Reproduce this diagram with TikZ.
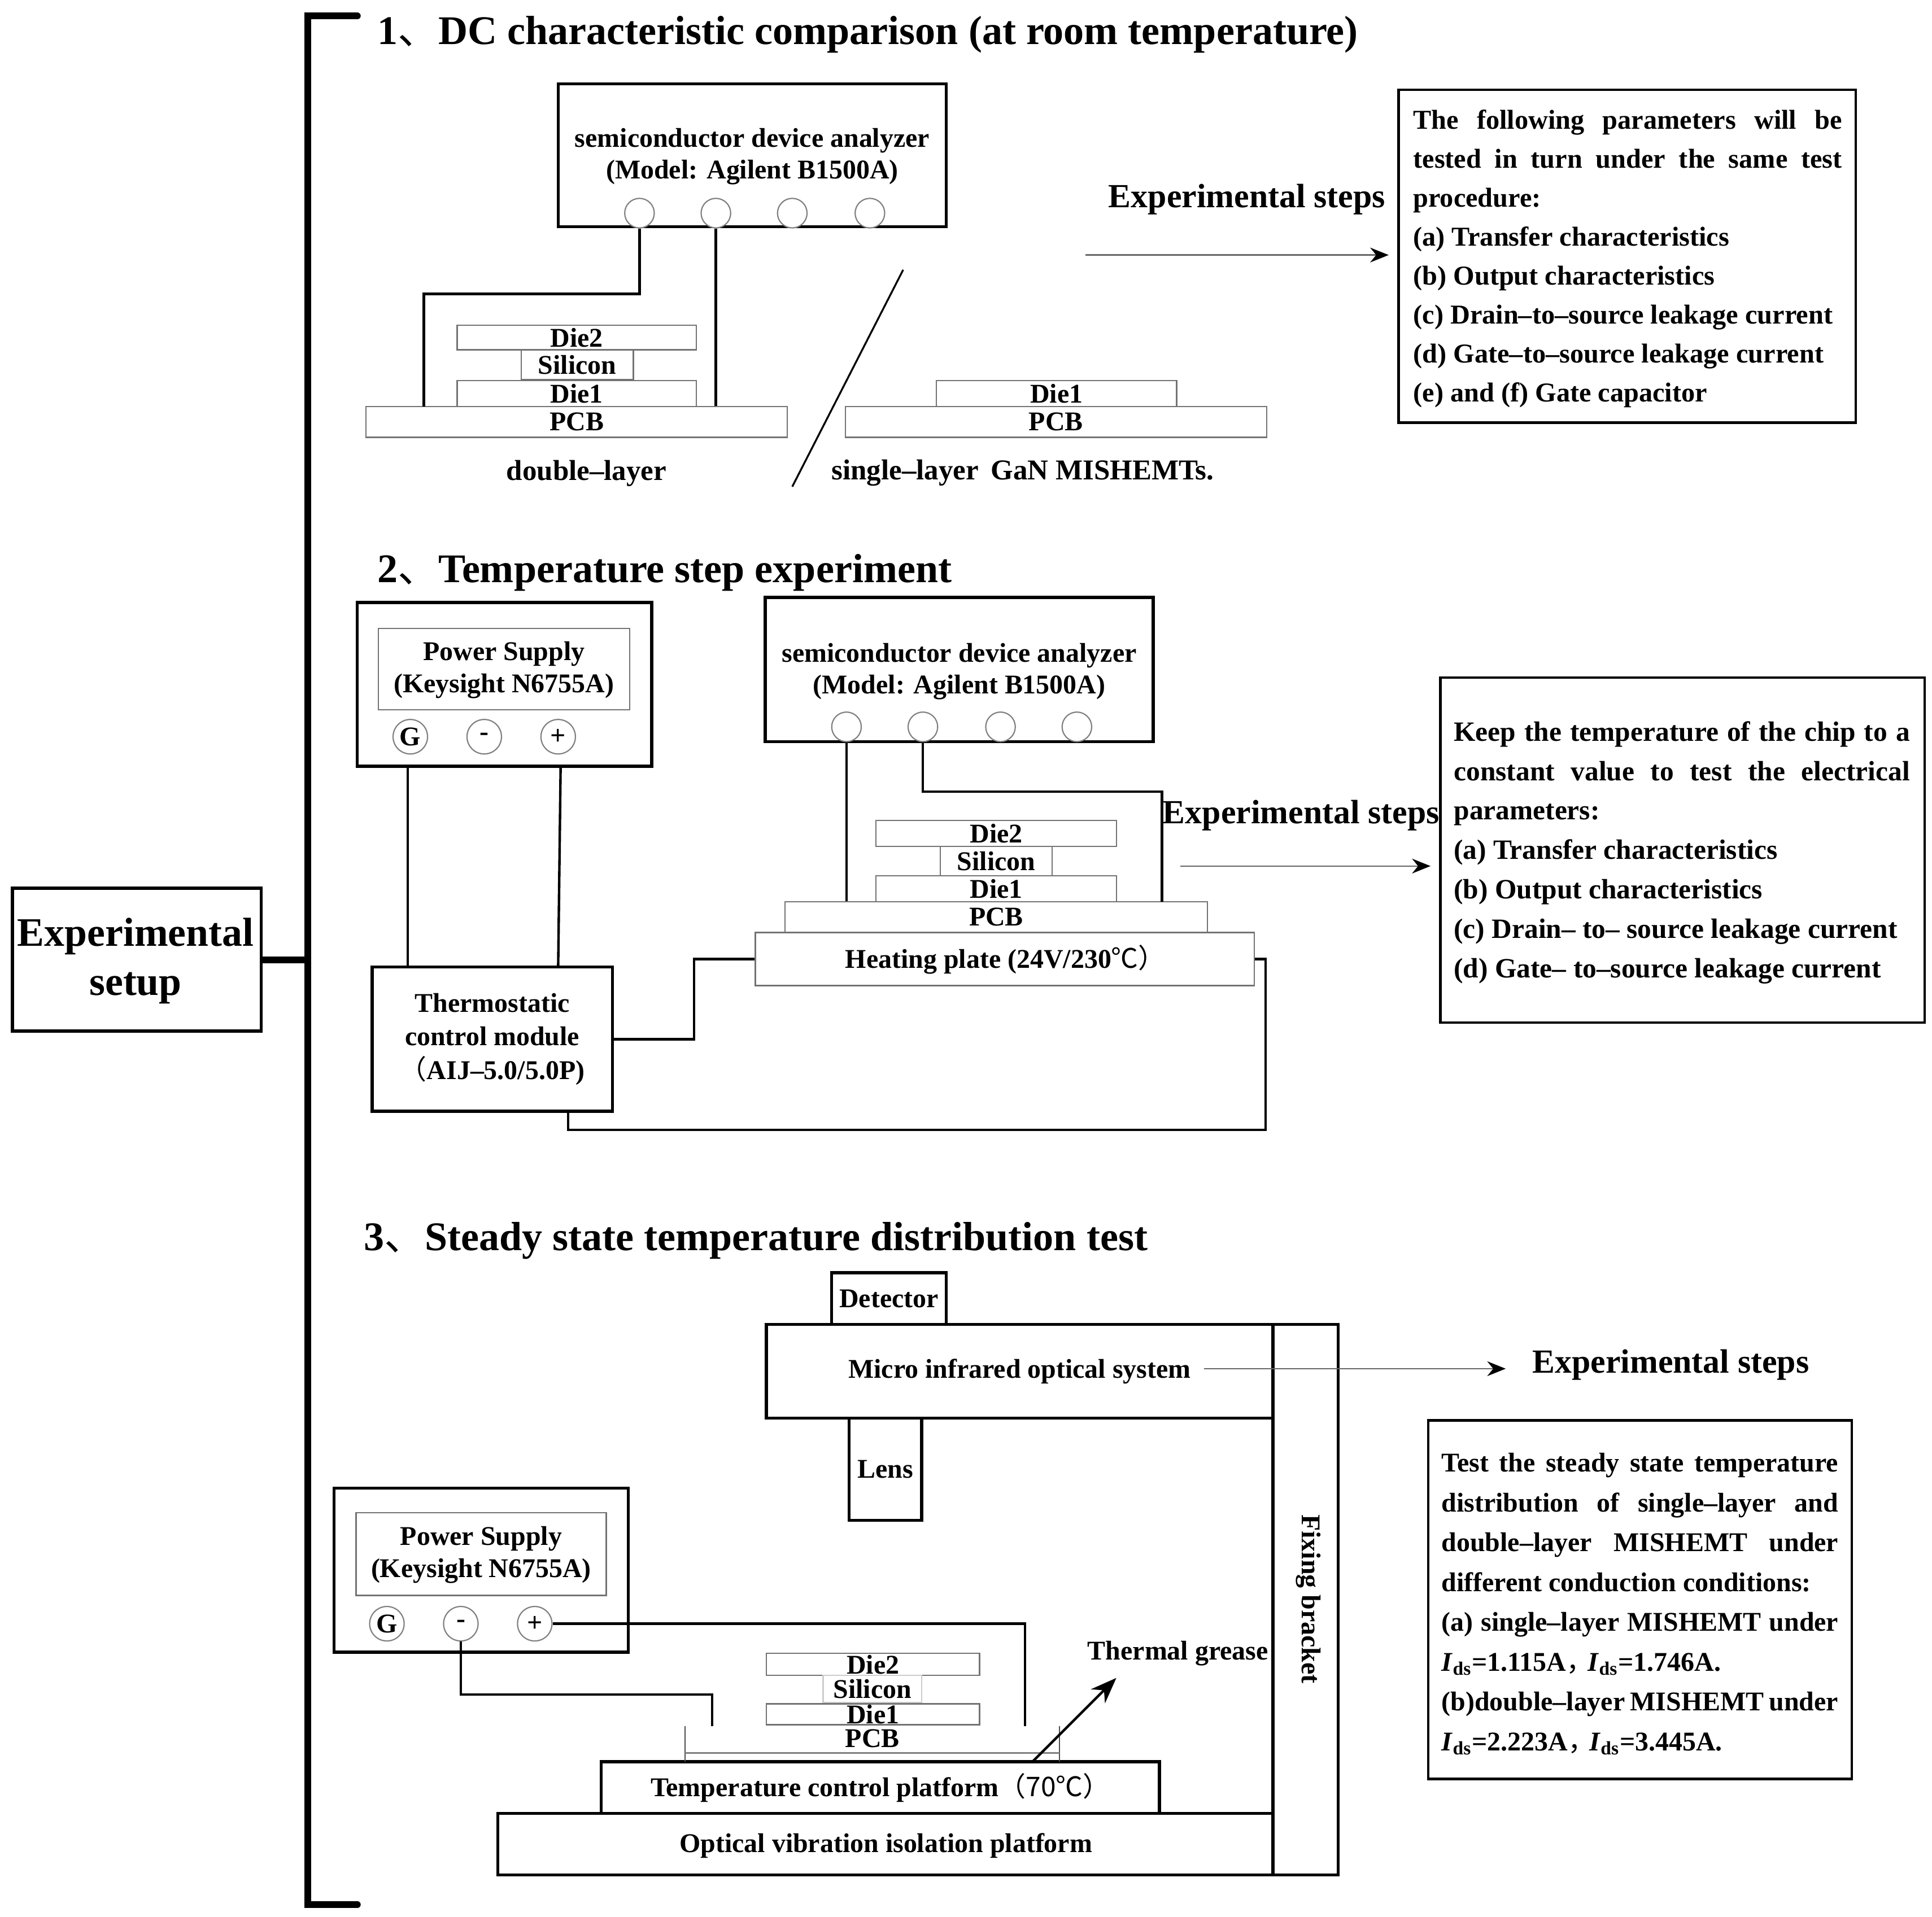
\documentclass[tikz,border=0pt]{standalone}
\usepackage{fontspec}
\setmainfont{Liberation Serif}
\newfontfamily\cjk{Noto Sans CJK SC}
\usetikzlibrary{arrows.meta, calc, positioning}

\newcommand{\px}{0.02cm}
\newcommand{\cj}[1]{{\cjk\mdseries #1}}
\newcommand{\lbl}{\bfseries\fontsize{12.5}{14.8}\selectfont}

\begin{document}
\begin{tikzpicture}[
            x = 0.02cm, y = -0.02cm, % one unit is one pixel of the small view
            box/.style={draw=black, line width=0.05cm, inner sep=0pt, align=center, font=\lbl},
            thinbox/.style={box, draw=black!55, line width=0.022cm},
            port/.style={circle, draw=black!50, line width=0.02cm, fill=white, minimum size=0.48cm, inner sep=0pt, font=\lbl},
            bigport/.style={port, minimum size=0.56cm},
            wire/.style={draw=black, line width=0.04cm},
            flow/.style={draw=black!60, line width=0.022cm, -{Stealth[length=0.3cm, width=0.24cm, color=black]}},
            title/.style={anchor=west, inner sep=0pt, font=\bfseries\fontsize{18.8}{22}\selectfont},
            steptitle/.style={inner sep=0pt, font=\bfseries\fontsize{15.6}{18}\selectfont},
            plain/.style={inner sep=0pt, align=center, font=\lbl},
            bigplain/.style={plain, font=\bfseries\fontsize{13.3}{16}\selectfont},
            stepbox/.style={draw=black, line width=0.04cm},
            steptext/.style={inner sep=0pt, align=justify}
        ]

        \useasboundingbox (0,0) rectangle (1568,1556);

        % Root and bracket
        \node[box, minimum width=202*\px, minimum height=116*\px] (root) at (111,779) {};
        \node[plain, font=\bfseries\fontsize{18.7}{22.5}\selectfont] (root-text) at (110,780) {Experimental\\setup};
        \coordinate (B-t) at (290,13);
        \coordinate (B-b) at (290,1546);
        \coordinate (B-m) at (250,779);
        \draw[line width=0.11cm, line cap=round] (B-t) -- (250,13) -- (250,1546) -- (B-b);
        \draw[line width=0.11cm] (root.east) -- (B-m);

        % Section 1
        \node[title] (title-1) at (306,28) {1\cj{、}DC characteristic comparison (at room temperature)};

        \node[box, minimum width=315*\px, minimum height=116*\px] (A-box) at (610.5,126) {};
        \node[plain] (A-text) at (610.5,127) {semiconductor device analyzer\\(Model: Agilent B1500A)};
        \foreach \i/\x in {1/519,2/581,3/643,4/706}
        \node[port] (A-\i) at (\x,173) {};

        \node[thinbox, minimum width=194*\px, minimum height=20*\px] (D2-a) at (468,274) {Die2};
        \node[thinbox, minimum width=91*\px, minimum height=24*\px] (Si-a) at (468.5,296) {Silicon};
        \node[thinbox, minimum width=194*\px, minimum height=21*\px] (D1-a) at (468,319.5) {Die1};
        \node[thinbox, minimum width=342*\px, minimum height=25*\px] (PCB-a) at (468,342.5) {PCB};
        \node[thinbox, minimum width=195*\px, minimum height=21*\px] (D1-b) at (857.5,319.5) {Die1};
        \node[thinbox, minimum width=342*\px, minimum height=25*\px] (PCB-b) at (857,342.5) {PCB};
        \node[bigplain] (lab-double) at (476,384) {double–layer};
        \node[bigplain] (lab-single) at (830,384) {single–layer\, GaN MISHEMTs.};

        \coordinate (C-1) at (344,330);
        \draw[wire] (A-1.south) -- ++(0,53) -| (C-1);
        \draw[wire] (A-2.south) -- (A-2.south |- PCB-a.north);

        % Slash between the two devices
        \coordinate (sl-t) at (733,219);
        \coordinate (sl-b) at (643,395);
        \draw[wire, line width=0.03cm] (sl-t) -- (sl-b);

        \node[steptitle] (exp-1) at (1012,162) {Experimental steps};
        \coordinate (F-1a) at (881,207);
        \coordinate (F-1b) at (1127,207);
        \draw[flow] (F-1a) -- (F-1b);

        \node[stepbox, minimum width=371*\px, minimum height=270*\px] (S-1) at (1320.5,208) {};
        \node[steptext, text width=348*\px, font=\bfseries\fontsize{12.6}{18}\selectfont] (S-1-text) at (1321,210) {The following parameters will be\linebreak tested in turn under the same test\linebreak procedure:\\(a) Transfer characteristics\\(b) Output characteristics\\(c) Drain–to–source leakage current\\(d) Gate–to–source leakage current\\(e) and (f) Gate capacitor};

        % Section 2
        \node[title] (title-2) at (306,465) {2\cj{、}Temperature step experiment};

        \node[box, minimum width=239*\px, minimum height=133*\px] (P-box) at (409.5,555.5) {};
        \node[thinbox, minimum width=204*\px, minimum height=66*\px] (P-in) at (409,543) {};
        \node[plain] (P-text) at (409,544) {Power Supply\\(Keysight N6755A)};
        \foreach \i/\x/\t in {1/333/G,2/393/-,3/453/+}
        \node[bigport] (P-\i) at (\x,598) {\t};

        \node[box, minimum width=315*\px, minimum height=117*\px] (B-box) at (778.5,543.5) {};
        \node[plain] (B-text) at (778.5,545) {semiconductor device analyzer\\(Model: Agilent B1500A)};
        \foreach \i/\x in {1/687,2/749,3/812,4/874}
        \node[port] (B-\i) at (\x,590) {};

        \node[thinbox, minimum width=195*\px, minimum height=21*\px] (D2-c) at (808.5,676.5) {Die2};
        \node[thinbox, minimum width=91*\px, minimum height=24*\px] (Si-c) at (808.5,699) {Silicon};
        \node[thinbox, minimum width=195*\px, minimum height=21*\px] (D1-c) at (808.5,721.5) {Die1};
        \node[thinbox, minimum width=343*\px, minimum height=25*\px] (PCB-c) at (808.5,744.5) {PCB};
        \node[thinbox, minimum width=405*\px, minimum height=43*\px] (heat) at (815.5,778.5) {};
        \node[plain] (heat-text) at (816,779) {Heating plate (24V/230\cj{℃）}};
        \node[box, minimum width=195*\px, minimum height=117*\px, font=\bfseries\fontsize{12.5}{15.5}\selectfont] (module) at (399.5,843.5) {Thermostatic\\control module\\\cj{（}AIJ–5.0/5.0P)};

        \coordinate (P-a) at (331,622);
        \coordinate (P-b) at (455,622);
        \coordinate (M-a) at (331,785);
        \coordinate (M-b) at (453,785);
        \coordinate (M-c) at (461,902);
        \coordinate (H-r) at (1027,917);
        \coordinate (C-2) at (943,732);
        \draw[wire] (P-a) -- (M-a);
        \draw[wire] (P-b) -- (M-b);
        \draw[wire] (B-1.south) -- (B-1.south |- PCB-c.north);
        \draw[wire] (B-2.south) -- ++(0,40) -| (C-2);
        \draw[wire] (module.east) -- ++(65,0) |- (heat.west);
        \draw[wire] (M-c) |- (H-r) |- (heat.east);

        \node[steptitle] (exp-2) at (1056,662) {Experimental steps};
        \coordinate (F-2a) at (958,703);
        \coordinate (F-2b) at (1161,703);
        \draw[flow] (F-2a) -- (F-2b);

        \node[stepbox, minimum width=393*\px, minimum height=280*\px] (S-2) at (1365.5,690) {};
        \node[steptext, text width=370*\px, font=\bfseries\fontsize{12.9}{18.2}\selectfont] (S-2-text) at (1365,692) {Keep the temperature of the chip to a\linebreak constant value to test the electrical\linebreak parameters:\\(a) Transfer characteristics\\(b) Output characteristics\\(c) Drain– to– source leakage current\\(d) Gate– to–source leakage current};

        % Section 3
        \node[title] (title-3) at (295,1007) {3\cj{、}Steady state temperature distribution test};

        \node[box, minimum width=93*\px, minimum height=42*\px] (detector) at (721.5,1054) {Detector};
        \node[box, minimum width=411*\px, minimum height=76*\px] (micro) at (827.5,1113) {Micro infrared optical system};
        \node[box, minimum width=59*\px, minimum height=83*\px] (lens) at (718.5,1192.5) {Lens};
        \node[box, minimum width=53*\px, minimum height=447*\px] (fixing) at (1059.5,1298.5) {};
        \node[plain, rotate=-90] (fix-label) at (1062,1298) {Fixing bracket};
        \node[box, minimum width=629*\px, minimum height=50*\px] (optical) at (718.5,1497) {};
        \node[plain] (optical-text) at (719,1498) {Optical vibration isolation platform};
        \node[box, minimum width=453*\px, minimum height=42*\px] (platform) at (714.5,1451) {Temperature control platform\cj{（70℃）}};

        \node[box, minimum width=239*\px, minimum height=133*\px] (Q-box) at (390.5,1274.5) {};
        \node[thinbox, minimum width=203*\px, minimum height=67*\px] (Q-in) at (390.5,1261.5) {};
        \node[plain] (Q-text) at (390.5,1262) {Power Supply\\(Keysight N6755A)};
        \foreach \i/\x/\t in {1/314/G,2/374/-,3/434/+}
        \node[bigport] (Q-\i) at (\x,1318) {\t};

        \node[thinbox, minimum width=173*\px, minimum height=18*\px] (D2-d) at (708.5,1351) {Die2};
        \node[thinbox, draw=black!20, minimum width=80*\px, minimum height=22*\px] (Si-d) at (708,1371) {Silicon};
        \node[thinbox, minimum width=173*\px, minimum height=17*\px] (D1-d) at (708.5,1391.5) {Die1};
        \node[plain] (PCB-d) at (708,1411) {PCB};

        % Open sides of the PCB and the grease layer
        \coordinate (L-t) at (556,1401);
        \coordinate (L-b) at (556,1430);
        \coordinate (R-t) at (860,1401);
        \coordinate (R-b) at (860,1430);
        \coordinate (G-l) at (556,1423);
        \coordinate (G-r) at (860,1423);
        \draw[draw=black!70, line width=0.02cm] (L-t) -- (L-b);
        \draw[draw=black!70, line width=0.02cm] (R-t) -- (R-b);
        \draw[draw=black!50, line width=0.03cm] (G-l) -- (G-r);

        \coordinate (C-3) at (578,1401);
        \coordinate (C-4) at (832,1401);
        \draw[wire] (Q-2.south) -- ++(0,43) -| (C-3);
        \draw[wire] (Q-3.east) -| (C-4);

        \node[plain] (grease) at (956,1342) {Thermal grease};
        \coordinate (T-a) at (838,1430);
        \coordinate (T-b) at (906,1362);
        \draw[wire, -{Stealth[length=0.42cm, width=0.32cm]}] (T-a) -- (T-b);

        \coordinate (F-3a) at (977,1111);
        \coordinate (F-3b) at (1222,1111);
        \draw[flow] (F-3a) -- (F-3b);
        \node[steptitle] (exp-3) at (1356,1108) {Experimental steps};

        \node[stepbox, minimum width=344*\px, minimum height=291*\px] (S-3) at (1331,1298.5) {};
        \node[steptext, text width=322*\px, font=\bfseries\fontsize{12.5}{18.4}\selectfont] (S-3-text) at (1331,1302) {Test the steady state temperature\linebreak distribution of single–layer and\linebreak double–layer MISHEMT under\linebreak different conduction conditions:\\(a) single–layer MISHEMT under\linebreak \textit{I}\textsubscript{ds}=1.115A\cj{，}\kern-0.2em\textit{I}\textsubscript{ds}=1.746A.\\(b)double–layer MISHEMT under\linebreak \textit{I}\textsubscript{ds}=2.223A\cj{，}\kern-0.2em\textit{I}\textsubscript{ds}=3.445A.};

    \end{tikzpicture}
\end{document}
